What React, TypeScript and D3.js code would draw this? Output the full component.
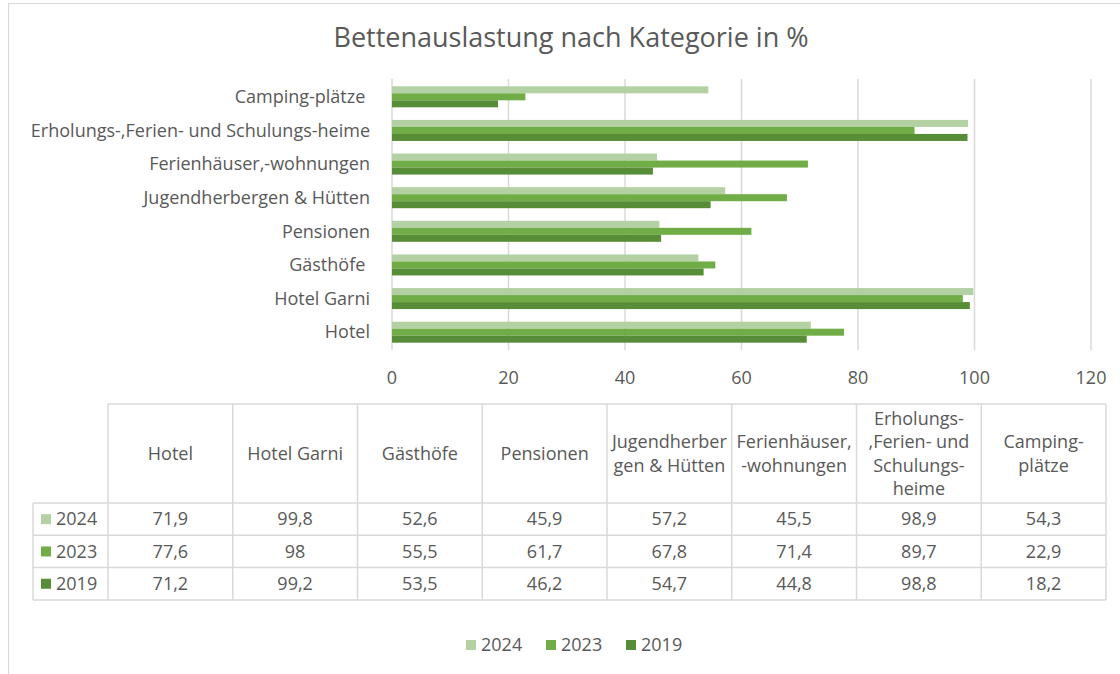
import React from "react";
import * as d3 from "d3";

const categories = [
  "Hotel",
  "Hotel Garni",
  "Gästhöfe ",
  "Pensionen",
  "Jugendherbergen & Hütten",
  "Ferienhäuser,-wohnungen",
  "Erholungs-,Ferien- und Schulungs-heime",
  "Camping-plätze ",
];
const tableHeaders = [
  ["Hotel"],
  ["Hotel Garni"],
  ["Gästhöfe"],
  ["Pensionen"],
  ["Jugendherber", "gen & Hütten"],
  ["Ferienhäuser,", "-wohnungen"],
  ["Erholungs-", ",Ferien- und", "Schulungs-", "heime"],
  ["Camping-", "plätze"],
];
const seriesNames = ["2024", "2023", "2019"];
const values2024 = [71.9, 99.8, 52.6, 45.9, 57.2, 45.5, 98.9, 54.3];
const values2023 = [77.6, 98, 55.5, 61.7, 67.8, 71.4, 89.7, 22.9];
const values2019 = [71.2, 99.2, 53.5, 46.2, 54.7, 44.8, 98.8, 18.2];
const xTicks = [0, 20, 40, 60, 80, 100, 120];
const title = "Bettenauslastung nach Kategorie in %";

const seriesValues = [values2024, values2023, values2019];
const colors = ["#b3d1a3", "#70ad47", "#588d37"];
const FONT = "'Open Sans', sans-serif";
const TEXT = "#595959";
const GRID = "#d9d9d9";
const FS = 18;

export default function App() {
  const W = 1120,
    H = 674;
  const x = d3.scaleLinear().domain([0, 120]).range([392, 1091]);
  const y = d3
    .scaleBand<string>()
    .domain([...categories].reverse())
    .range([80, 349])
    .paddingInner(0.375)
    .paddingOuter(0.1875);
  const ySub = d3
    .scaleBand<string>()
    .domain(seriesNames)
    .range([0, y.bandwidth()]);

  // table layout
  const tLeft = 33,
    tFirst = 108,
    tRight = 1106;
  const colX = d3
    .scaleBand<number>()
    .domain(categories.map((_, i) => i))
    .range([tFirst, tRight]);
  const headerTop = 404,
    headerBottom = 503,
    rowH = 32.3;
  const fmt = (v: number) => String(v).replace(".", ",");

  return (
    <svg
      width={W}
      height={H}
      style={{ position: "absolute", left: 0, top: 0, background: "#fff" }}
      fontFamily={FONT}
    >
      <rect x={8.5} y={3.5} width={1130} height={700} fill="#fff" stroke={GRID} />
      <text x={571} y={47} textAnchor="middle" fontSize={27} fill={TEXT}>
        {title}
      </text>
      {/* gridlines */}
      {xTicks.map((t) => (
        <line
          key={t}
          x1={x(t)}
          x2={x(t)}
          y1={79}
          y2={350}
          stroke={GRID}
          strokeWidth={1.5}
        />
      ))}
      {xTicks.map((t) => (
        <text key={t} x={x(t)} y={384} textAnchor="middle" fontSize={FS} fill={TEXT}>
          {t}
        </text>
      ))}
      {/* bars */}
      {categories.map((c, i) => (
        <g key={c} transform={`translate(0,${y(c)})`}>
          {seriesNames.map((s, si) => (
            <rect
              key={s}
              x={x(0)}
              y={ySub(s)}
              width={x(seriesValues[si][i]) - x(0)}
              height={ySub.bandwidth()}
              fill={colors[si]}
            />
          ))}
          <text
            x={370}
            y={y.bandwidth() / 2}
            dy="0.35em"
            textAnchor="end"
            fontSize={FS}
            fill={TEXT}
            style={{ whiteSpace: "pre" }}
          >
            {c}
          </text>
        </g>
      ))}
      {/* data table */}
      <g stroke={GRID} strokeWidth={1.5} fill="none">
        <line x1={tFirst} x2={tRight} y1={headerTop} y2={headerTop} />
        {[0, 1, 2, 3].map((r) => (
          <line
            key={r}
            x1={tLeft}
            x2={tRight}
            y1={headerBottom + r * rowH}
            y2={headerBottom + r * rowH}
          />
        ))}
        <line x1={tLeft} x2={tLeft} y1={headerBottom} y2={headerBottom + 3 * rowH} />
        {categories.map((_, i) => (
          <line
            key={i}
            x1={colX(i)}
            x2={colX(i)}
            y1={headerTop}
            y2={headerBottom + 3 * rowH}
          />
        ))}
        <line x1={tRight} x2={tRight} y1={headerTop} y2={headerBottom + 3 * rowH} />
      </g>
      {tableHeaders.map((lines, i) => {
        const cx = (colX(i) as number) + colX.bandwidth() / 2;
        const lh = 23.5;
        const cy = (headerTop + headerBottom) / 2;
        return (
          <text key={i} textAnchor="middle" fontSize={FS} fill={TEXT}>
            {lines.map((l, li) => (
              <tspan
                key={li}
                x={cx}
                y={cy + (li - (lines.length - 1) / 2) * lh}
                dy="0.35em"
              >
                {l}
              </tspan>
            ))}
          </text>
        );
      })}
      {seriesNames.map((s, si) => {
        const cy = headerBottom + si * rowH + rowH / 2;
        return (
          <g key={s}>
            <rect x={41} y={cy - 5} width={10} height={10} fill={colors[si]} />
            <text x={56} y={cy} dy="0.35em" fontSize={FS} fill={TEXT}>
              {s}
            </text>
            {seriesValues[si].map((v, i) => (
              <text
                key={i}
                x={(colX(i) as number) + colX.bandwidth() / 2}
                y={cy}
                dy="0.35em"
                textAnchor="middle"
                fontSize={FS}
                fill={TEXT}
              >
                {fmt(v)}
              </text>
            ))}
          </g>
        );
      })}
      {/* legend */}
      {seriesNames.map((s, si) => {
        const lx = 466 + si * 80;
        return (
          <g key={s}>
            <rect x={lx} y={640} width={10} height={10} fill={colors[si]} />
            <text x={lx + 15} y={645} dy="0.35em" fontSize={FS} fill={TEXT}>
              {s}
            </text>
          </g>
        );
      })}
    </svg>
  );
}
